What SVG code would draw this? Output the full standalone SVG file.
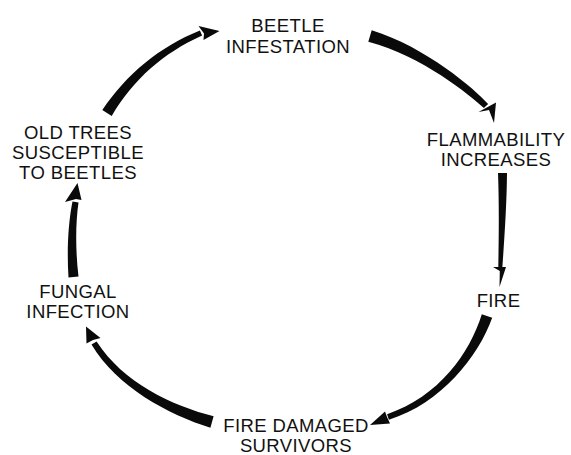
<svg xmlns="http://www.w3.org/2000/svg" width="571" height="455" viewBox="0 0 571 455">
<style>
text{font-family:"Liberation Sans",Arial,Helvetica,sans-serif;font-size:18.5px;letter-spacing:0.4px;fill:#111;text-anchor:middle}
.arw{fill:#0a0a0a;stroke:none}
</style>
<rect width="571" height="455" fill="#fff"/>
<g id="connectors">
<!-- old trees -> beetle infestation -->
<path class="arw" d="M102.3,110.1 C126.1,74.2 159.8,46.6 199.9,30.4 L202.1,35.6 C162.8,53.4 133.9,79.1 111.7,115.9 Z"/>
<path class="arw" d="M198.5,26 L219.5,31 L203.5,40 L204,33.5 Z"/>
<!-- beetle infestation -> flammability -->
<path class="arw" d="M371.7,30.2 C426.4,47.2 474.8,89.2 488.1,103.9 L483.9,108.1 C469.2,94.8 423.6,56.8 368.3,41.8 Z"/>
<path class="arw" d="M478.5,112 L496,102.5 L494,123 L489,110 Z"/>
<!-- flammability -> fire -->
<path class="arw" d="M507,173 C506.7,205 504.3,240 502.3,268 L498.3,268 C498.7,240 499.3,205 498,173 Z"/>
<path class="arw" d="M493,267 L506,267 L499.5,287 L499.8,271 Z"/>
<!-- fire -> fire damaged survivors -->
<path class="arw" d="M492.2,317.7 C478.4,356.5 441.1,403.5 388.9,419.7 L387.1,414.3 C438.9,396.5 469.6,353.5 481.8,314.3 Z"/>
<path class="arw" d="M385,411.5 L370,425 L390,423.5 L387,417 Z"/>
<!-- fire damaged survivors -> fungal infection -->
<path class="arw" d="M210.4,427.8 C168.6,414.8 116.6,387.1 91.5,344.6 L96.6,341.4 C123.4,382.9 171.4,405.2 213.6,416.2 Z"/>
<path class="arw" d="M86.5,343.5 L86,326.5 L100.5,338 L93,340 Z"/>
<!-- fungal infection -> old trees -->
<path class="arw" d="M68.5,277.5 C66.7,250.4 68.4,221.4 72.5,201.5 L78.5,202.5 C75.6,222.6 75.3,249.6 78.5,276.5 Z"/>
<path class="arw" d="M65,202 L77.5,183 L81.5,200 L76,199 Z"/>
</g>
<g id="beetle-infestation">
<text x="288" y="31.5">BEETLE</text>
<text x="288" y="52.5">INFESTATION</text>
</g>
<g id="flammability-increases">
<text x="496" y="146">FLAMMABILITY</text>
<text x="496" y="166">INCREASES</text>
</g>
<g id="fire">
<text x="498.5" y="307">FIRE</text>
</g>
<g id="fire-damaged-survivors">
<text x="296" y="432">FIRE DAMAGED</text>
<text x="296" y="452">SURVIVORS</text>
</g>
<g id="fungal-infection">
<text x="78" y="298">FUNGAL</text>
<text x="78" y="318">INFECTION</text>
</g>
<g id="old-trees">
<text x="78" y="138.5">OLD TREES</text>
<text x="78" y="158.5">SUSCEPTIBLE</text>
<text x="78" y="178.5">TO BEETLES</text>
</g>
</svg>
